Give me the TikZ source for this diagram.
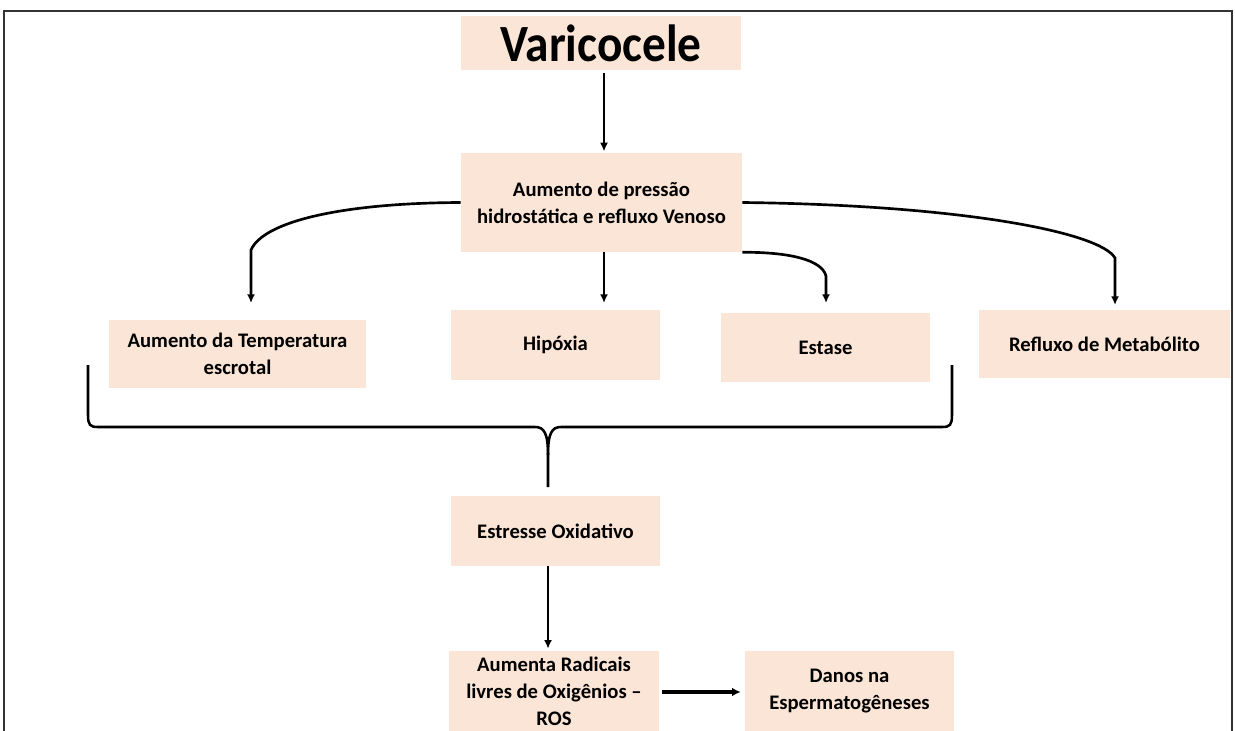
\documentclass[tikz,border=0pt]{standalone}
\usepackage{fontspec}
\setmainfont{Carlito}
\usetikzlibrary{arrows.meta}
\definecolor{peach}{HTML}{FBE5D6}
\begin{document}
\begin{tikzpicture}[x=0.75pt,y=-0.75pt,
  box/.style={fill=peach,draw=none,inner sep=0pt,align=center,
    font=\fontsize{15.5}{20.25}\selectfont\bfseries},
  conn/.style={line width=2pt,-{Latex[length=6.5pt,width=6pt]}},
  brace/.style={line width=1.9pt}]
\useasboundingbox (0,0) rectangle (1235,731);
\draw[line width=1.5pt,draw=black!80] (4,735) -- (4,11) -- (1232,11) -- (1232,735);

\node[box,minimum width=210pt,minimum height=40.5pt] (var) at (601,43.5) {\scalebox{0.96}[1.06]{\fontsize{37}{40}\selectfont\bfseries Varicocele}};
\node[box,minimum width=210.75pt,minimum height=74.25pt] (pres) at (601.5,202.5) {Aumento de pressão\\hidrostática e refluxo Venoso};
\node[box,minimum width=192.75pt,minimum height=51pt] (temp) at (237.5,354) {Aumento da Temperatura\\escrotal};
\node[box,minimum width=156.75pt,minimum height=52.5pt] (hip) at (555.5,345) {Hipóxia};
\node[box,minimum width=156.75pt,minimum height=51.75pt] (est) at (825.5,347.5) {Estase};
\node[box,minimum width=188.25pt,minimum height=51pt] (ref) at (1104.5,344) {Refluxo de Metabólito};
\node[box,minimum width=156.75pt,minimum height=52.5pt] (ox) at (555.5,531) {Estresse Oxidativo};
\node[box,minimum width=157.5pt,minimum height=60pt] (ros) at (554,691) {Aumenta Radicais\\livres de Oxigênios –\\ROS};
\node[box,minimum width=156.75pt,minimum height=60pt] (dan) at (849.5,691) {Danos na\\Espermatogêneses};

\coordinate (cl) at (251,303);
\coordinate (cm) at (604,303);
\coordinate (ce) at (826,303);
\coordinate (cr) at (1115,305);
\coordinate (bt) at (548,487);

\draw[conn] ([xshift=2.25pt,yshift=-1.5pt]var.south) -- ([xshift=2.25pt,yshift=1pt]var.south |- pres.north);
\draw[conn] (pres.west) .. controls (340,203) and (263,222) .. (251,250) -- (cl);
\draw[conn] (pres.south -| cm) -- (cm);
\draw[conn] (pres.south east) .. controls (790,252) and (822,260) .. (826,276) -- (ce);
\draw[conn] (pres.east) .. controls (960,205) and (1100,232) .. (1115,258) -- (cr);

\draw[brace] (88,365) -- (88,415) .. controls (88,425) and (90,427) .. (98,427)
  -- (535,427) .. controls (544,427) and (548,433) .. (548,455) -- (bt);
\draw[brace] (952,365) -- (952,415) .. controls (952,425) and (950,427) .. (942,427)
  -- (561,427) .. controls (552,427) and (548,433) .. (548,455);

\draw[conn] (ox.south -| bt) -- ([yshift=1.5pt]ros.north -| bt);
\draw[line width=3pt,-{Latex[length=6.5pt,width=6.5pt]}] ([xshift=2pt,yshift=-0.75pt]ros.east) -- ([xshift=-3pt,yshift=-0.75pt]dan.west);
\end{tikzpicture}
\end{document}
